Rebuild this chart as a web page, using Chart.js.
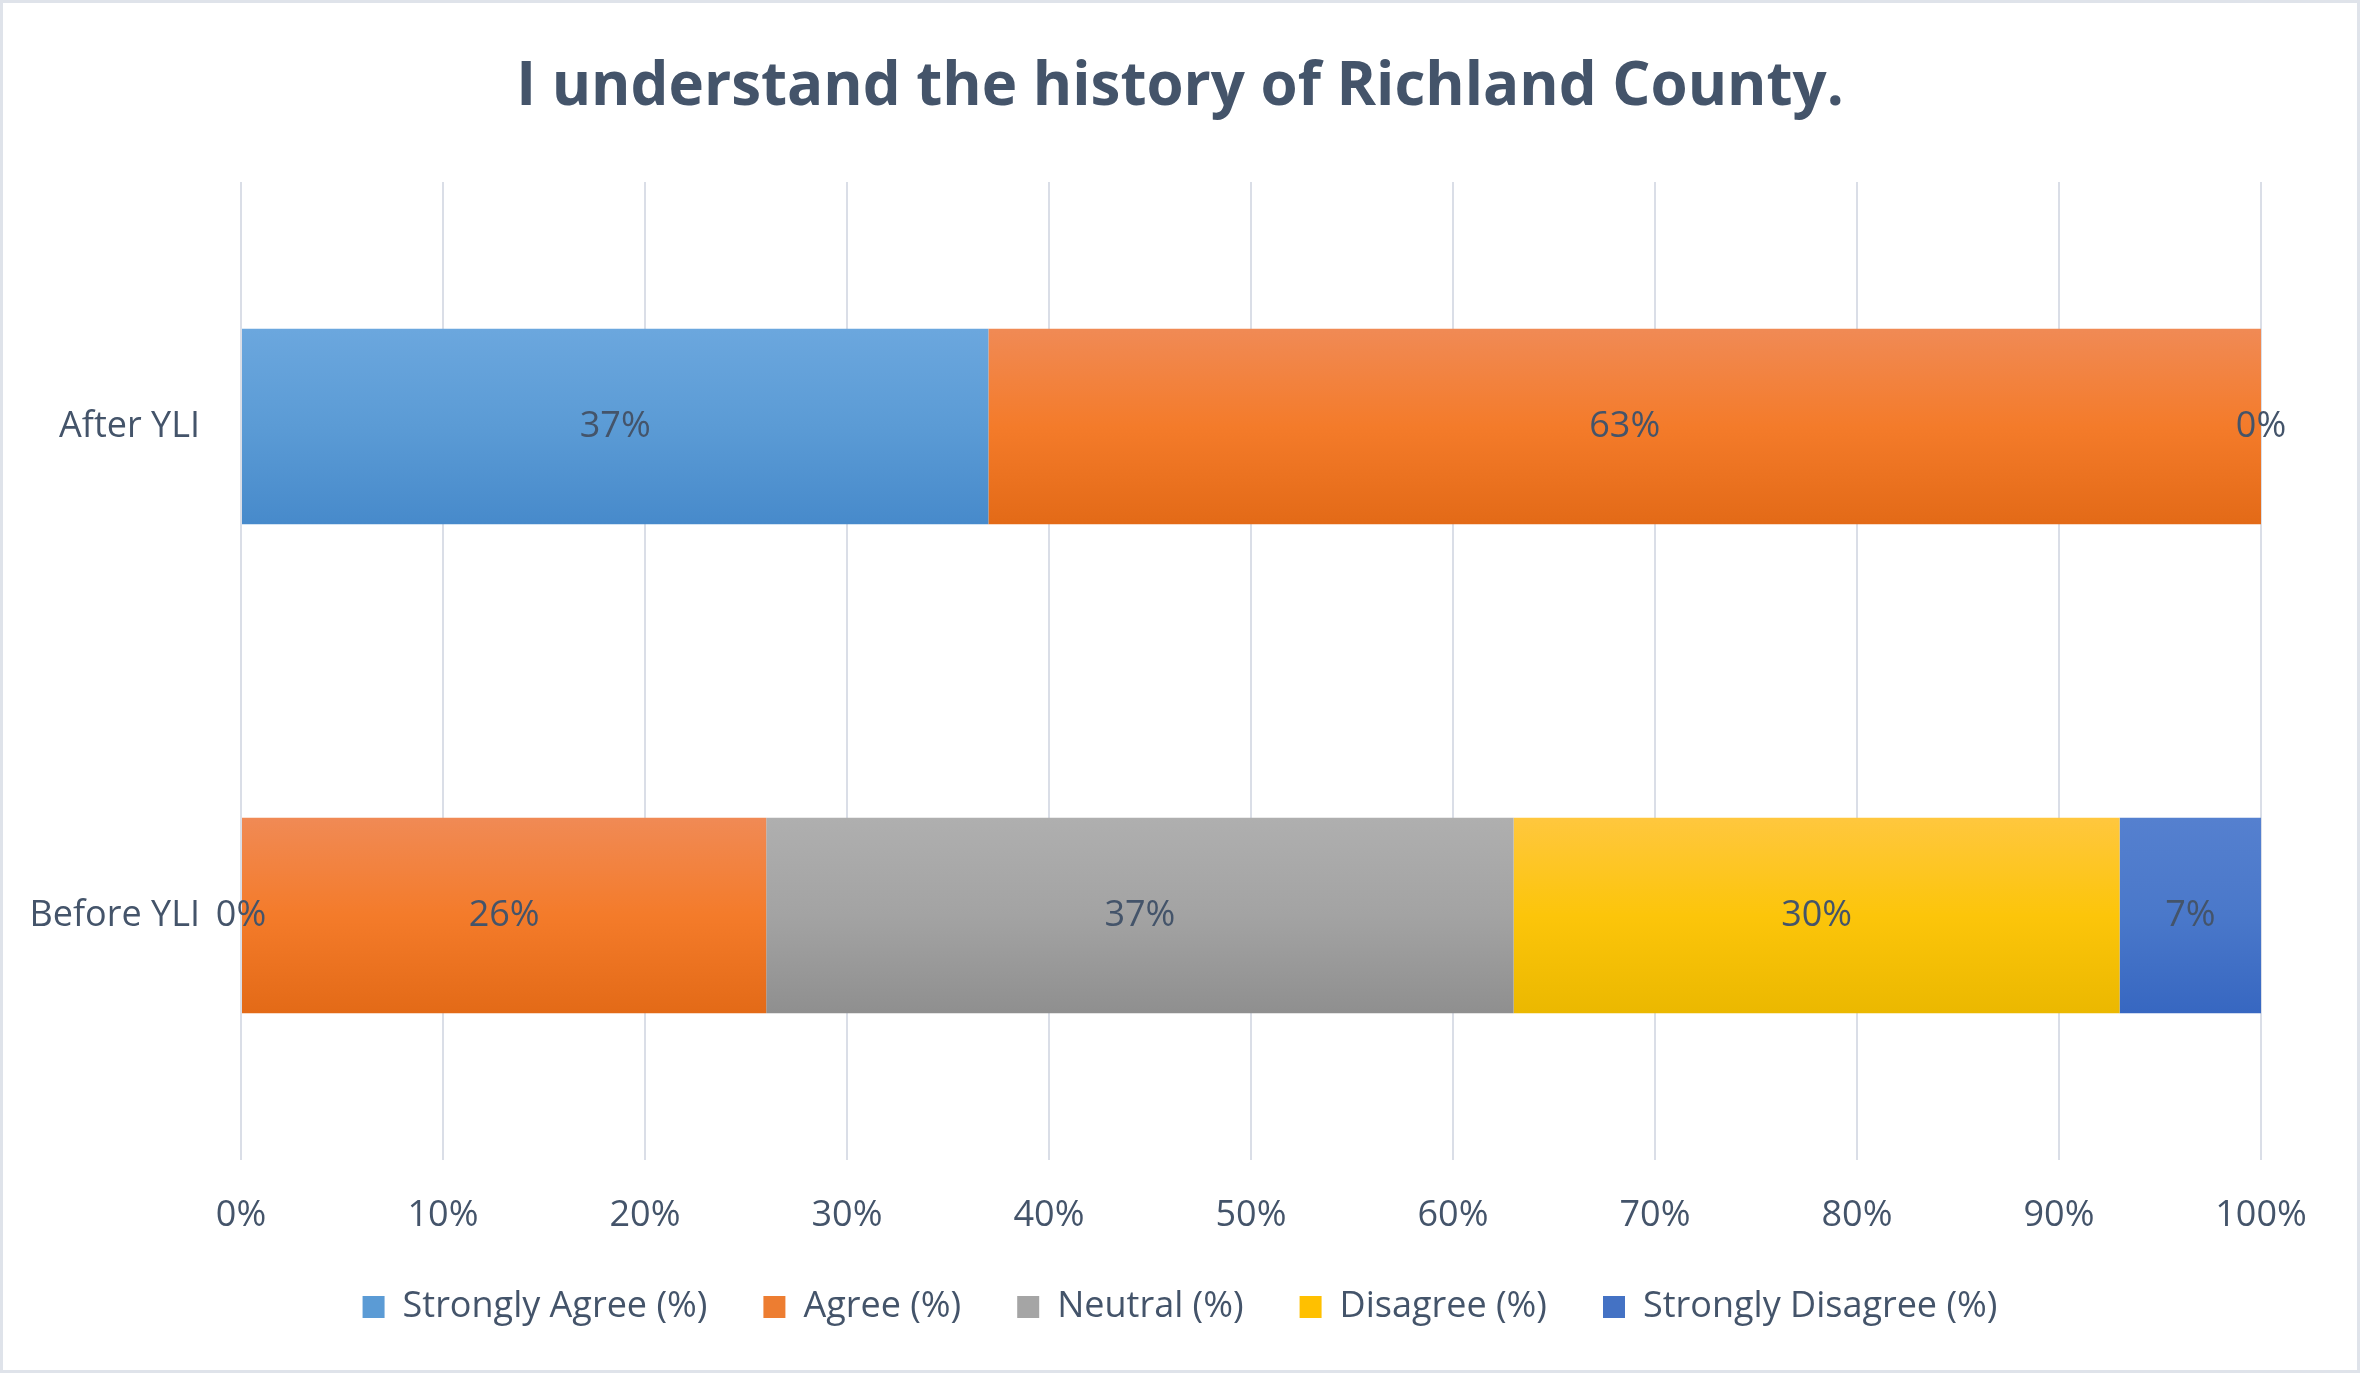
<!DOCTYPE html>
<html>
<head>
<meta charset="utf-8">
<script src="https://cdn.jsdelivr.net/npm/chart.js@4.4.1/dist/chart.umd.min.js"></script>
<style>
    html, body { margin: 0; padding: 0; background: #fff; }
    #frame {
        width: 2360px;
        height: 1373px;
        box-sizing: border-box;
        border: 3px solid #dfe3ea;
        position: relative;
    }
</style>
</head>
<body>
<div id="frame"><canvas id="chart"></canvas></div>
<script>
const categories = ['After YLI', 'Before YLI'];
const seriesNames = ['Strongly Agree (%)', 'Agree (%)', 'Neutral (%)', 'Disagree (%)', 'Strongly Disagree (%)'];

const stronglyAgree = [37, 0];
const agree = [63, 26];
const neutral = [0, 37];
const disagree = [null, 30];
const stronglyDisagree = [null, 7];

const xTickStep = 10;

// top / middle / bottom shades of each series, Office-like gradient fill
const seriesShades = [
    ['#6ba7de', '#5b9bd5', '#478acb'],
    ['#f08a55', '#f47b2a', '#e36a17'],
    ['#afafaf', '#a3a3a3', '#8f8f8f'],
    ['#ffc73e', '#fcc50a', '#ebb800'],
    ['#5580cf', '#4a78ca', '#3767c1'],
];
const seriesColors = ['#5b9bd5', '#ed7d31', '#a5a5a5', '#ffc000', '#4472c4'];

const textColor = '#44546a';
const fontFamily = '"Open Sans", "Noto Sans", sans-serif';
const labelSize = 36;
const barPercentage = 0.4;

const barGradient = (shades) => (context) => {
    const chart = context.chart;
    const yScale = chart.scales.y;
    if (!chart.chartArea || !yScale || context.dataIndex === undefined) {
        return shades[1];
    }
    const center = yScale.getPixelForValue(context.dataIndex);
    const half = (yScale.height / categories.length) * barPercentage / 2;
    const gradient = chart.ctx.createLinearGradient(0, center - half, 0, center + half);
    gradient.addColorStop(0, shades[0]);
    gradient.addColorStop(0.5, shades[1]);
    gradient.addColorStop(1, shades[2]);
    return gradient;
};

const valueLabels = {
    id: 'valueLabels',
    afterDatasetsDraw: (chart) => {
        const ctx = chart.ctx;
        ctx.save();
        ctx.font = `${labelSize}px ${fontFamily}`;
        ctx.fillStyle = textColor;
        ctx.textAlign = 'center';
        ctx.textBaseline = 'middle';
        chart.data.datasets.forEach((dataset, datasetIndex) => {
            const meta = chart.getDatasetMeta(datasetIndex);
            meta.data.forEach((bar, index) => {
                const value = dataset.data[index];
                if (value === null || value === undefined) return;
                const x = (bar.x + bar.base) / 2;
                ctx.fillText(`${value}%`, x, bar.y);
            });
        });
        ctx.restore();
    }
};

const seriesValues = [stronglyAgree, agree, neutral, disagree, stronglyDisagree];

const chart = new Chart(document.getElementById('chart'), {
    type: 'bar',
    data: {
        labels: categories,
        datasets: seriesNames.map((name, i) => ({
            label: name,
            data: seriesValues[i],
            backgroundColor: barGradient(seriesShades[i]),
            borderWidth: 0,
            barPercentage: barPercentage,
            categoryPercentage: 1,
        })),
    },
    options: {
        indexAxis: 'y',
        responsive: true,
        maintainAspectRatio: false,
        animation: false,
        layout: {
            padding: { left: 0, right: 0, top: 0, bottom: 35 }
        },
        scales: {
            x: {
                stacked: true,
                min: 0,
                max: 100,
                ticks: {
                    stepSize: xTickStep,
                    padding: 34,
                    color: textColor,
                    font: { family: fontFamily, size: labelSize },
                    callback: (value) => `${value}%`,
                },
                grid: {
                    color: '#dadee7',
                    lineWidth: 2,
                    drawTicks: false,
                },
                border: { display: false },
                afterFit: (scale) => { scale.height = 73; },
            },
            y: {
                stacked: true,
                ticks: {
                    padding: 41,
                    color: textColor,
                    font: { family: fontFamily, size: labelSize },
                },
                grid: { display: false, drawTicks: false },
                border: { display: false },
                afterFit: (scale) => { scale.width = 238; },
            },
            yRight: {
                type: 'category',
                position: 'right',
                ticks: { display: false },
                grid: { display: false, drawTicks: false },
                border: { display: false },
                afterFit: (scale) => { scale.width = 96; },
            },
        },
        plugins: {
            title: {
                display: true,
                text: 'I understand the history of Richland County.',
                color: textColor,
                font: { family: fontFamily, size: 60, weight: 'bold' },
                padding: { top: 49, bottom: 58 },
            },
            legend: {
                position: 'bottom',
                labels: {
                    color: textColor,
                    font: { family: fontFamily, size: labelSize },
                    boxWidth: 22,
                    boxHeight: 22,
                    padding: 56,
                    generateLabels: (chart) => chart.data.datasets.map((dataset, i) => ({
                        text: dataset.label,
                        fillStyle: seriesColors[i],
                        strokeStyle: seriesColors[i],
                        lineWidth: 0,
                        fontColor: textColor,
                        datasetIndex: i,
                        hidden: !chart.isDatasetVisible(i),
                    })),
                },
            },
            tooltip: { enabled: false },
        },
    },
    plugins: [valueLabels],
});
</script>
</body>
</html>
